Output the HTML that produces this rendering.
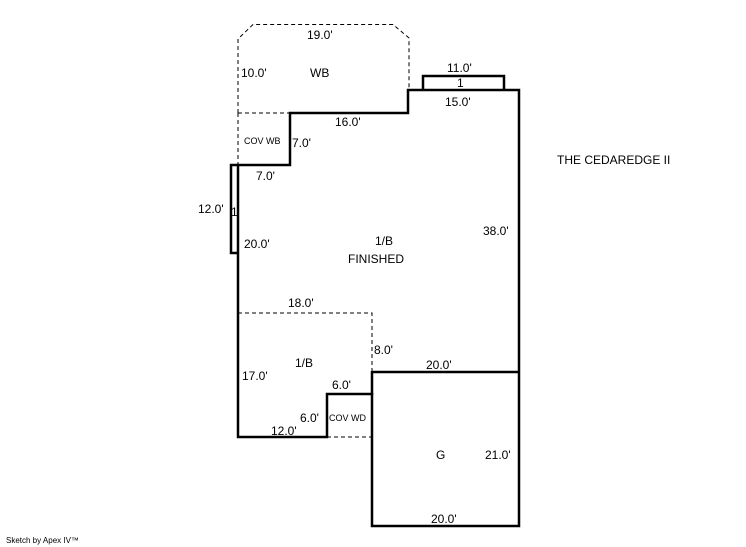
<!DOCTYPE html>
<html><head><style>
body{margin:0;background:#fff;width:746px;height:547px;overflow:hidden}
svg{display:block}
text{font-family:"Liberation Sans",Arial,sans-serif;font-size:12px;fill:#000}
.s{font-size:9px}
</style></head><body>
<svg width="746" height="547" viewBox="0 0 746 547">
<g fill="none" stroke="#000" stroke-width="1" stroke-dasharray="4,3">
<path d="M238,113 L238,39 L253,24.5 L393,24.5 L409,38 L409,90"/>
<path d="M238,113 L290,113 M238,113 L238,165"/>
<path d="M238,313 L372,313 L372,372"/>
<path d="M327,437 L372,437"/>
</g>
<g fill="none" stroke="#000" stroke-width="2.5">
<path d="M238,165 L290,165 L290,113 L408,113 L408,90 L519,90 L519,526 L372,526 L372,394 L327,394 L327,437 L238,437 Z"/>
<path d="M372,372 L519,372 M372,371 L372,395"/>
<path d="M423,90 L423,76 L504,76 L504,90"/>
<path d="M238,165 L231,165 L231,253 L238,253"/>
</g>
<text x="307" y="39">19.0'</text>
<text x="241" y="77">10.0'</text>
<text x="310" y="77">WB</text>
<text x="447" y="72">11.0'</text>
<text x="457" y="87">1</text>
<text x="445" y="106">15.0'</text>
<text x="335" y="126">16.0'</text>
<text x="244" y="144" class="s">COV WB</text>
<text x="292" y="147">7.0'</text>
<text x="256" y="180">7.0'</text>
<text x="198" y="213">12.0'</text>
<text x="231" y="216">1</text>
<text x="244" y="248">20.0'</text>
<text x="375" y="245">1/B</text>
<text x="348" y="263">FINISHED</text>
<text x="483" y="235">38.0'</text>
<text x="557" y="164">THE CEDAREDGE II</text>
<text x="288" y="307">18.0'</text>
<text x="374" y="354">8.0'</text>
<text x="295" y="367">1/B</text>
<text x="426" y="369">20.0'</text>
<text x="242" y="380">17.0'</text>
<text x="332" y="389">6.0'</text>
<text x="300" y="422">6.0'</text>
<text x="329" y="421" class="s">COV WD</text>
<text x="271" y="435">12.0'</text>
<text x="436" y="459">G</text>
<text x="485" y="459">21.0'</text>
<text x="431" y="523">20.0'</text>
<text x="6" y="543" style="font-size:8px">Sketch by Apex IV™</text>
</svg>
</body></html>
